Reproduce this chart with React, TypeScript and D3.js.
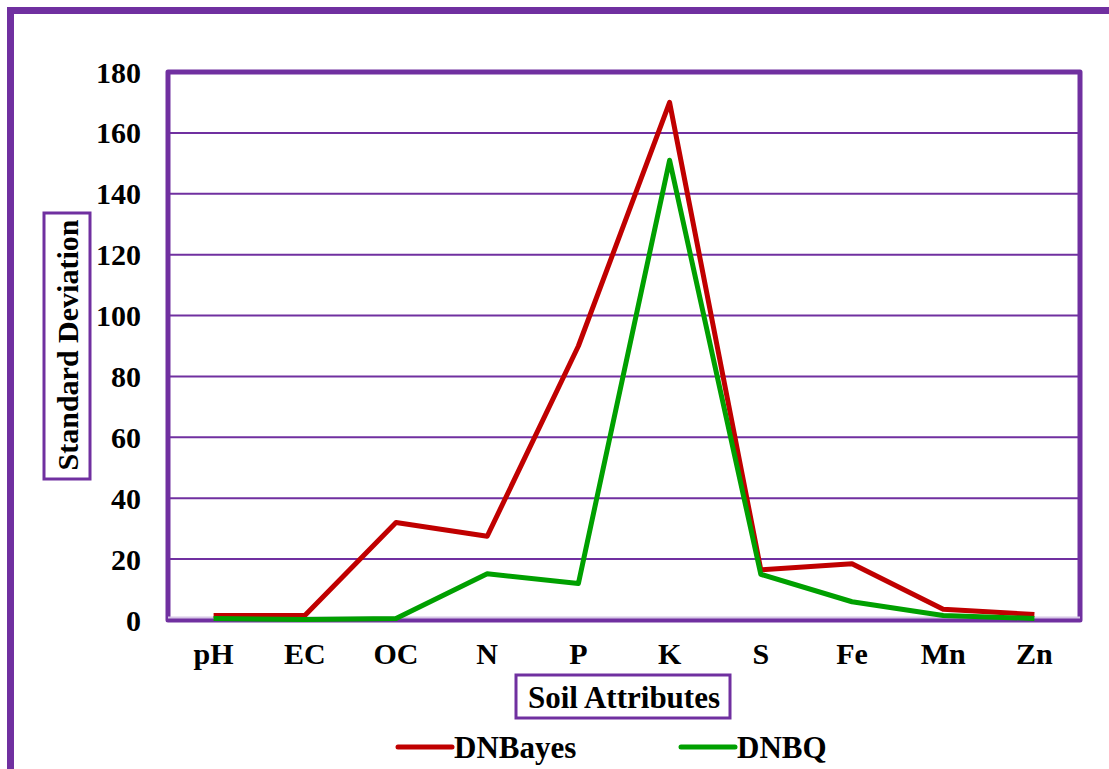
import React, { useRef, useEffect } from 'react';
import * as d3 from 'd3';

const CATEGORIES = ['pH', 'EC', 'OC', 'N', 'P', 'K', 'S', 'Fe', 'Mn', 'Zn'];
const DNBAYES = [1.5, 1.5, 32, 27.5, 90, 170, 16.5, 18.5, 3.5, 1.8];
const DNBQ = [0.5, 0.2, 0.5, 15.2, 12, 151, 15, 6, 1.5, 0.5];
const Y_TICKS = [0, 20, 40, 60, 80, 100, 120, 140, 160, 180];

const PURPLE = '#7030A0';
const RED = '#C00000';
const GREEN = '#00A000';
const FONT = '"Liberation Serif", "Times New Roman", serif';

const W = 1109;
const H = 769;
const M = { left: 168, right: 1080, top: 72, bottom: 620 };

export default function App() {
  const svgRef = useRef<SVGSVGElement | null>(null);

  useEffect(() => {
    const svg = d3.select(svgRef.current);
    svg.selectAll('*').remove();

    svg.append('rect').attr('width', W).attr('height', H).attr('fill', '#fff');

    // outer frame (runs off the right and bottom)
    svg.append('rect')
      .attr('x', 10.5).attr('y', 10.5)
      .attr('width', W + 50).attr('height', H + 50)
      .attr('fill', 'none')
      .attr('stroke', PURPLE)
      .attr('stroke-width', 7);

    const x = d3.scaleBand().domain(CATEGORIES).range([M.left, M.right]);
    const y = d3.scaleLinear().domain([0, 180]).range([M.bottom, M.top]);
    const cx = (c: string) => (x(c) ?? 0) + x.bandwidth() / 2;

    // gridlines
    svg.append('g')
      .selectAll('line')
      .data(Y_TICKS.filter(t => t > 0 && t < 180))
      .join('line')
      .attr('x1', M.left).attr('x2', M.right)
      .attr('y1', d => y(d)).attr('y2', d => y(d))
      .attr('stroke', PURPLE)
      .attr('stroke-width', 2);

    // plot border
    svg.append('rect')
      .attr('x', M.left).attr('y', M.top)
      .attr('width', M.right - M.left).attr('height', M.bottom - M.top)
      .attr('fill', 'none')
      .attr('stroke', PURPLE)
      .attr('stroke-width', 5)
      .attr('stroke-linejoin', 'round');
    svg.append('line')
      .attr('x1', M.left).attr('x2', M.right)
      .attr('y1', M.bottom - 2.5).attr('y2', M.bottom - 2.5)
      .attr('stroke', '#d6c6e6')
      .attr('stroke-width', 2);

    // y tick labels
    svg.append('g')
      .selectAll('text')
      .data(Y_TICKS)
      .join('text')
      .attr('x', 141)
      .attr('y', d => y(d))
      .attr('dy', '0.35em')
      .attr('text-anchor', 'end')
      .attr('font-family', FONT)
      .attr('font-weight', 'bold')
      .attr('font-size', 30)
      .text(d => d);

    // x tick labels
    svg.append('g')
      .selectAll('text')
      .data(CATEGORIES)
      .join('text')
      .attr('x', d => cx(d))
      .attr('y', 664)
      .attr('text-anchor', 'middle')
      .attr('font-family', FONT)
      .attr('font-weight', 'bold')
      .attr('font-size', 30)
      .text(d => d);

    // lines
    const series = [
      { name: 'DNBayes', values: DNBAYES, color: RED },
      { name: 'DNBQ', values: DNBQ, color: GREEN },
    ];
    const line = d3.line<number>()
      .x((_, i) => cx(CATEGORIES[i]))
      .y(d => y(d));
    series.forEach(s => {
      svg.append('path')
        .datum(s.values)
        .attr('d', line)
        .attr('fill', 'none')
        .attr('stroke', s.color)
        .attr('stroke-width', 5)
        .attr('stroke-linejoin', 'round');
    });

    // y axis title in a box
    svg.append('rect')
      .attr('x', 44).attr('y', 213)
      .attr('width', 46).attr('height', 266)
      .attr('fill', '#fff')
      .attr('stroke', PURPLE)
      .attr('stroke-width', 3);
    svg.append('text')
      .attr('transform', 'translate(67,345) rotate(-90)')
      .attr('dy', '0.35em')
      .attr('text-anchor', 'middle')
      .attr('font-family', FONT)
      .attr('font-weight', 'bold')
      .attr('font-size', 30)
      .text('Standard Deviation');

    // x axis title in a box
    svg.append('rect')
      .attr('x', 516).attr('y', 675)
      .attr('width', 214).attr('height', 43)
      .attr('fill', '#fff')
      .attr('stroke', PURPLE)
      .attr('stroke-width', 3);
    svg.append('text')
      .attr('x', 624).attr('y', 697)
      .attr('dy', '0.35em')
      .attr('text-anchor', 'middle')
      .attr('font-family', FONT)
      .attr('font-weight', 'bold')
      .attr('font-size', 31)
      .text('Soil Attributes');

    // legend
    const legendX = [398, 681];
    series.forEach((s, i) => {
      const g = svg.append('g').attr('transform', `translate(${legendX[i]},747)`);
      g.append('line')
        .attr('x1', 0).attr('x2', 54)
        .attr('stroke', s.color)
        .attr('stroke-width', 5)
        .attr('stroke-linecap', 'round');
      g.append('text')
        .attr('x', 56)
        .attr('dy', '0.35em')
        .attr('font-family', FONT)
        .attr('font-weight', 'bold')
        .attr('font-size', 31)
        .text(s.name);
    });
  }, []);

  return (
    <div style={{ position: 'absolute', left: 0, top: 0 }}>
      <svg ref={svgRef} width={W} height={H} style={{ display: 'block' }} />
    </div>
  );
}
